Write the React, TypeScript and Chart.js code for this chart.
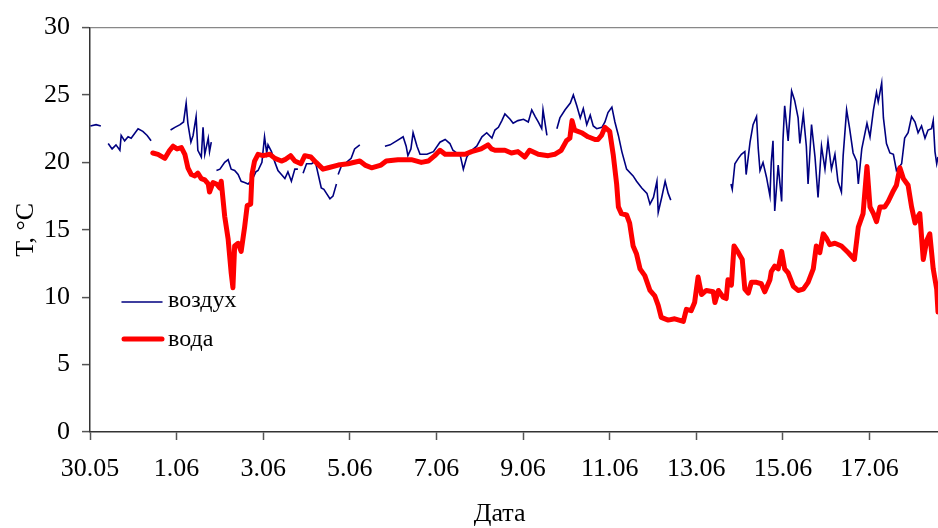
import React, { useEffect, useRef } from "react";
import { Chart, registerables } from "chart.js";

Chart.register(...registerables);

// x = days since 30.05 (00:00)
const tickDays = [0, 2, 4, 6, 8, 10, 12, 14, 16, 18];
const tickLabels = ["30.05", "1.06", "3.06", "5.06", "7.06", "9.06", "11.06", "13.06", "15.06", "17.06"];
const xMax = 19.58;
const yTicks = [0, 5, 10, 15, 20, 25, 30];

const airName = "воздух";
const waterName = "вода";

const airDays = [
  0.01, 0.14, 0.25, 0.3,
  0.42, 0.51, 0.6, 0.69, 0.72, 0.8, 0.88, 0.95, 1.11, 1.22, 1.32, 1.41, 1.6,
  1.86, 1.96, 2.08, 2.16, 2.22, 2.26, 2.33, 2.38, 2.45, 2.49, 2.57, 2.61, 2.65, 2.73, 2.76, 2.8, 2.85,
  2.92, 3.0, 3.11, 3.19, 3.26, 3.34, 3.42, 3.49, 3.57, 3.65, 3.74, 3.83, 3.88, 3.97, 4.03, 4.08, 4.11, 4.19, 4.27, 4.34, 4.42, 4.5, 4.57, 4.65, 4.73, 4.8, 4.86,
  4.92, 5.0, 5.12, 5.2, 5.27, 5.34, 5.4, 5.46, 5.54, 5.61, 5.69, 5.72,
  5.73, 5.8, 5.92, 6.03, 6.11, 6.23, 6.5,
  6.81, 6.93, 7.08, 7.23, 7.3, 7.34, 7.41, 7.46, 7.55, 7.62, 7.78, 7.93, 8.08, 8.2, 8.31, 8.38, 8.55, 8.62, 8.7, 8.78, 8.93, 9.05, 9.16, 9.28, 9.35, 9.43, 9.51, 9.58, 9.7, 9.77, 9.88, 10.01, 10.12, 10.2, 10.28, 10.35, 10.43, 10.46, 10.55, 10.6,
  10.78, 10.85, 10.97, 11.09, 11.16, 11.24, 11.32, 11.39, 11.47, 11.55, 11.62, 11.7, 11.82, 11.89, 11.96, 12.05, 12.12, 12.2, 12.28, 12.39, 12.54, 12.62, 12.74, 12.86, 12.93, 13.01, 13.09, 13.12, 13.2, 13.28, 13.35, 13.41, 13.8,
  14.8, 14.83, 14.89, 14.97, 15.04, 15.12, 15.15, 15.24, 15.31, 15.39, 15.43, 15.47, 15.54, 15.62, 15.7, 15.73, 15.77, 15.81, 15.89, 15.97, 16.0, 16.04, 16.12, 16.2, 16.27, 16.35, 16.39, 16.47, 16.54, 16.58, 16.66, 16.74, 16.81, 16.89, 16.97, 17.04, 17.12, 17.2, 17.27, 17.35, 17.39, 17.47, 17.54, 17.62, 17.7, 17.74, 17.82, 17.94, 18.01, 18.09, 18.16, 18.2, 18.28, 18.32, 18.39, 18.47, 18.55, 18.62, 18.74, 18.81, 18.89, 18.97, 19.05, 19.12, 19.2, 19.28, 19.35, 19.43, 19.47, 19.51, 19.55, 19.58,
];
const airTemps = [
  22.7, 22.8, 22.7, null,
  21.4, 21.0, 21.3, 20.9, 22.0, 21.6, 21.9, 21.8, 22.5, 22.3, 22.0, 21.6, null,
  22.4, 22.6, 22.8, 23.0, 24.4, 22.9, 21.5, 22.0, 23.4, 20.9, 20.4, 22.6, 20.6, 21.8, 20.8, 21.5, null,
  19.4, 19.5, 20.0, 20.2, 19.5, 19.4, 19.1, 18.6, 18.5, 18.4, 18.7, 19.3, 19.4, 20.0, 21.9, 20.7, 21.3, 20.8, 20.0, 19.4, 19.1, 18.8, 19.3, 18.6, 19.5, 19.5, null,
  19.2, 19.9, 19.9, 20.1, 19.1, 18.1, 18.0, 17.7, 17.3, 17.5, 18.4, null,
  19.1, 19.7, 20.0, 20.3, 21.0, 21.3, null,
  21.2, 21.3, 21.6, 21.9, 21.2, 20.5, 21.0, 22.2, 21.2, 20.6, 20.6, 20.8, 21.5, 21.7, 21.4, 20.9, 20.5, 19.5, 20.4, 20.8, 21.2, 21.9, 22.2, 21.8, 22.4, 22.6, 23.1, 23.6, 23.2, 22.9, 23.1, 23.2, 23.0, 23.9, 23.4, 23.0, 22.5, 23.9, 22.0, null,
  22.5, 23.3, 23.9, 24.4, 25.0, 24.2, 23.3, 24.0, 22.8, 23.5, 22.7, 22.5, 22.6, 23.0, 23.7, 24.1, 23.0, 22.0, 20.8, 19.5, 19.0, 18.6, 18.1, 17.7, 16.9, 17.4, 18.6, 16.3, 17.4, 18.6, 17.7, 17.2, null,
  18.4, 18.0, 19.9, 20.3, 20.6, 20.8, 19.1, 21.5, 22.8, 23.4, 21.0, 19.4, 20.0, 18.9, 17.5, 20.0, 21.6, 16.4, 19.8, 17.1, 21.6, 24.2, 21.6, 25.3, 24.6, 23.3, 21.4, 23.6, 21.2, 18.4, 22.8, 20.4, 17.4, 21.2, 19.5, 21.6, 19.5, 20.6, 18.6, 17.8, 20.5, 23.9, 22.5, 20.7, 20.1, 18.4, 21.0, 22.9, 21.9, 23.9, 25.2, 24.5, 25.9, 23.3, 21.4, 20.7, 20.6, 19.4, 19.9, 21.8, 22.2, 23.4, 23.0, 22.2, 22.7, 21.8, 22.4, 22.5, 23.1, 20.8, 19.9, 20.4,
];

const waterDays = [
  1.45, 1.57, 1.73, 1.84, 1.92, 2.01, 2.11, 2.19, 2.26, 2.34, 2.42, 2.49, 2.57, 2.65, 2.73, 2.76, 2.84, 2.92, 3.0, 3.03,
  3.11, 3.19, 3.26, 3.3, 3.34, 3.42, 3.49, 3.57, 3.63, 3.71, 3.74, 3.8, 3.88, 4.0, 4.15, 4.27, 4.42, 4.5, 4.63, 4.73,
  4.87, 4.96, 5.1, 5.22, 5.38, 5.5, 5.73, 5.96, 6.23, 6.35, 6.5, 6.72, 6.84, 7.11, 7.42, 7.65, 7.81, 7.96, 8.08, 8.2,
  8.42, 8.66, 8.81, 9.03, 9.19, 9.27, 9.35, 9.58, 9.73, 9.88, 10.04, 10.15, 10.35, 10.58, 10.73, 10.88, 11.0, 11.08, 11.13, 11.19,
  11.35, 11.5, 11.66, 11.73, 11.81, 11.89, 12.0, 12.08, 12.16, 12.2, 12.27, 12.39, 12.46, 12.54, 12.62, 12.7, 12.81, 12.93, 13.04, 13.12,
  13.19, 13.35, 13.5, 13.6, 13.7, 13.77, 13.88, 13.96, 14.04, 14.12, 14.23, 14.39, 14.43, 14.51, 14.62, 14.69, 14.73, 14.81, 14.87, 14.97,
  15.06, 15.12, 15.2, 15.27, 15.39, 15.5, 15.58, 15.7, 15.73, 15.81, 15.89, 15.97, 16.04, 16.12, 16.24, 16.35, 16.47, 16.58, 16.7, 16.77,
  16.85, 16.93, 17.0, 17.08, 17.2, 17.35, 17.51, 17.65, 17.74, 17.85, 17.94, 18.01, 18.09, 18.16, 18.24, 18.35, 18.43, 18.55, 18.62, 18.7,
  18.78, 18.89, 18.97, 19.05, 19.12, 19.16, 19.24, 19.32, 19.39, 19.47, 19.55, 19.58,
];
const waterTemps = [
  20.7, 20.6, 20.3, 20.9, 21.2, 21.0, 21.1, 20.6, 19.6, 19.1, 19.0, 19.2, 18.8, 18.7, 18.4, 17.8, 18.5, 18.4, 18.1, 18.6,
  16.0, 14.3, 11.8, 10.7, 13.8, 14.0, 13.4, 15.2, 16.8, 16.9, 19.1, 20.1, 20.6, 20.5, 20.6, 20.3, 20.1, 20.2, 20.5, 20.1,
  19.9, 20.5, 20.4, 20.0, 19.5, 19.6, 19.8, 19.9, 20.1, 19.8, 19.6, 19.8, 20.1, 20.2, 20.2, 20.0, 20.1, 20.5, 20.9, 20.6,
  20.6, 20.6, 20.8, 21.0, 21.3, 21.0, 20.9, 20.9, 20.7, 20.8, 20.4, 20.9, 20.6, 20.5, 20.6, 20.9, 21.6, 21.8, 23.1, 22.4,
  22.2, 21.9, 21.7, 21.7, 22.0, 22.6, 22.3, 20.6, 18.4, 16.7, 16.2, 16.1, 15.5, 13.8, 13.2, 12.1, 11.6, 10.5, 10.1, 9.4,
  8.5, 8.3, 8.4, 8.3, 8.2, 9.1, 9.0, 9.6, 11.5, 10.2, 10.5, 10.4, 9.6, 10.5, 10.0, 9.9, 11.3, 10.9, 13.8, 13.3,
  12.8, 10.6, 10.3, 11.1, 11.1, 11.0, 10.4, 11.3, 11.9, 12.3, 12.1, 13.4, 12.1, 11.8, 10.8, 10.5, 10.6, 11.1, 12.1, 13.8,
  13.3, 14.7, 14.4, 13.9, 14.0, 13.8, 13.3, 12.8, 15.2, 16.2, 19.7, 16.7, 16.2, 15.6, 16.7, 16.7, 17.1, 17.9, 18.3, 19.6,
  18.8, 18.3, 16.7, 15.5, 16.0, 16.2, 12.8, 14.2, 14.7, 12.1, 10.6, 8.9,
];

const AIR_COLOR = "#000080";
const WATER_COLOR = "#FF0000";
const FONT = "'Liberation Serif', 'Times New Roman', serif";

const overlayPlugin = {
  id: "overlay",
  afterDraw(chart: any) {
    const ctx = chart.ctx;
    const area = chart.chartArea;
    ctx.save();
    // legend
    ctx.lineCap = "round";
    ctx.strokeStyle = AIR_COLOR;
    ctx.lineWidth = 1.5;
    ctx.beginPath();
    ctx.moveTo(122, 302);
    ctx.lineTo(162, 302);
    ctx.stroke();
    ctx.strokeStyle = WATER_COLOR;
    ctx.lineWidth = 5;
    ctx.beginPath();
    ctx.moveTo(124, 339);
    ctx.lineTo(162, 339);
    ctx.stroke();
    ctx.fillStyle = "#000";
    ctx.font = `24px ${FONT}`;
    ctx.textBaseline = "middle";
    ctx.textAlign = "left";
    ctx.fillText(airName, 168, 301);
    ctx.fillText(waterName, 168, 340);
    // axis titles
    ctx.font = `26px ${FONT}`;
    ctx.textAlign = "center";
    ctx.fillText("Дата", area.left + (area.right - area.left) * 0.483, 514);
    ctx.translate(26, (area.top + area.bottom) / 2);
    ctx.rotate(-Math.PI / 2);
    ctx.fillText("Т, °С", 0, 0);
    ctx.restore();
  },
};

export default function App() {
  const ref = useRef<HTMLCanvasElement | null>(null);
  useEffect(() => {
    if (!ref.current) return;
    const airData = airDays.map((d, i) => ({ x: d, y: airTemps[i] }));
    const waterData = waterDays.map((d, i) => ({ x: d, y: waterTemps[i] }));
    const chart = new Chart(ref.current, {
      type: "line",
      data: {
        datasets: [
          {
            label: airName,
            data: airData as any,
            borderColor: AIR_COLOR,
            borderWidth: 1.6,
            pointRadius: 0,
            tension: 0,
            spanGaps: false,
            order: 1,
          },
          {
            label: waterName,
            data: waterData as any,
            borderColor: WATER_COLOR,
            borderWidth: 5,
            pointRadius: 0,
            tension: 0,
            borderJoinStyle: "round",
            borderCapStyle: "round",
            order: 0,
          },
        ],
      },
      options: {
        animation: false,
        responsive: false,
        maintainAspectRatio: false,
        events: [],
        layout: { padding: { top: 22, left: 0, right: 0, bottom: 0 } },
        plugins: { legend: { display: false }, tooltip: { enabled: false }, title: { display: false } },
        scales: {
          x: {
            type: "linear",
            min: 0,
            max: xMax,
            afterBuildTicks: (s: any) => {
              s.ticks = tickDays.map((v) => ({ value: v }));
            },
            afterFit: (s: any) => {
              s.height = 96;
            },
            ticks: {
              autoSkip: false,
              maxRotation: 0,
              padding: 14,
              color: "#000",
              font: { family: FONT, size: 26 },
              callback: (v: any) => tickLabels[tickDays.indexOf(Number(v))] ?? "",
            },
            grid: { drawOnChartArea: false, drawTicks: true, tickLength: 8, tickColor: "#555", tickWidth: 1.5 },
            border: { display: true, color: "#333", width: 1.5 },
          },
          y: {
            min: 0,
            max: 30,
            afterBuildTicks: (s: any) => {
              s.ticks = yTicks.map((v) => ({ value: v }));
            },
            afterFit: (s: any) => {
              s.width = 90;
            },
            ticks: {
              padding: 12,
              color: "#000",
              font: { family: FONT, size: 26 },
            },
            grid: {
              drawOnChartArea: true,
              drawTicks: true,
              tickLength: 8,
              tickColor: "#555",
              tickWidth: 1.5,
              color: (c: any) => (c.tick && c.tick.value === 30 ? "#888" : "rgba(0,0,0,0)"),
              lineWidth: 1.2,
            },
            border: { display: true, color: "#333", width: 1.5 },
          },
        },
      },
      plugins: [overlayPlugin],
    });
    return () => chart.destroy();
  }, []);
  return (
    <div style={{ position: "fixed", left: 0, top: 0, width: 938, height: 528, background: "#fff" }}>
      <canvas ref={ref} width={938} height={528} style={{ display: "block", width: 938, height: 528 }} />
    </div>
  );
}
